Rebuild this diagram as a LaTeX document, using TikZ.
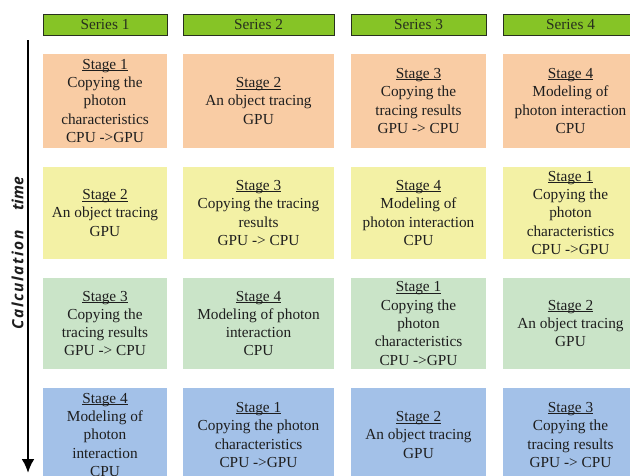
\documentclass[tikz,border=0pt]{standalone}
\usepackage{fontspec}
\setmainfont{Liberation Serif}
\newfontfamily\axisfont{Open Sans}
\usetikzlibrary{arrows.meta}
\definecolor{hdrgreen}{RGB}{134,196,38}
\definecolor{hdrline}{RGB}{40,48,30}
\definecolor{rowA}{RGB}{249,204,164}
\definecolor{rowB}{RGB}{243,241,165}
\definecolor{rowC}{RGB}{202,228,200}
\definecolor{rowD}{RGB}{163,193,232}
\definecolor{txt}{RGB}{30,30,30}
% underlined stage title, rule set just below the baseline
\newsavebox{\stgbox}
\newcommand{\stg}[1]{\sbox{\stgbox}{Stage #1}%
  \rlap{\rule[-1.6pt]{\wd\stgbox}{0.7pt}}\usebox{\stgbox}}
\tikzset{
  x=1pt, y=1pt,
  cell/.style={inner sep=0pt, align=center, text=txt,
    font=\fontsize{15.3}{18.3}\selectfont},
  hdr/.style={draw=hdrline, line width=1pt, fill=hdrgreen, inner sep=0pt,
    minimum height=21pt, text=hdrline, font=\fontsize{15.3}{18}\selectfont},
  wA/.style={minimum width=124pt},
  wB/.style={minimum width=151pt},
  wC/.style={minimum width=135pt},
  wD/.style={minimum width=135pt},
}
\begin{document}
\begin{tikzpicture}
\useasboundingbox (0,0) rectangle (630,-475);
\clip (0,0) rectangle (630,-475);
\fill[white] (0,0) rectangle (630,-475);

% column headers
\node[hdr,wA] (h1) at (105,-24.5) {Series 1};
\node[hdr,wB] (h2) at (258.5,-24.5) {Series 2};
\node[hdr,wC] (h3) at (418.5,-24.5) {Series 3};
\node[hdr,wD] (h4) at (570.5,-24.5) {Series 4};

% row 1
\begin{scope}[every node/.style={cell, fill=rowA, minimum height=94pt}]
\node[wA] (a1) at (105,-101) {\stg{1}\\Copying the\\photon\\characteristics\\CPU ->GPU};
\node[wB] (a2) at (258.5,-101) {\stg{2}\\An object tracing\\GPU};
\node[wC] (a3) at (418.5,-101) {\stg{3}\\Copying the\\tracing results\\GPU -> CPU};
\node[wD] (a4) at (570.5,-101) {\stg{4}\\Modeling of\\photon interaction\\CPU};
\end{scope}

% row 2
\begin{scope}[every node/.style={cell, fill=rowB, minimum height=92pt}]
\node[wA] (b1) at (105,-213) {\stg{2}\\An object tracing\\GPU};
\node[wB] (b2) at (258.5,-213) {\stg{3}\\Copying the tracing\\results\\GPU -> CPU};
\node[wC] (b3) at (418.5,-213) {\stg{4}\\Modeling of\\photon interaction\\CPU};
\node[wD] (b4) at (570.5,-213) {\stg{1}\\Copying the\\photon\\characteristics\\CPU ->GPU};
\end{scope}

% row 3
\begin{scope}[every node/.style={cell, fill=rowC, minimum height=91pt}]
\node[wA] (c1) at (105,-323.5) {\stg{3}\\Copying the\\tracing results\\GPU -> CPU};
\node[wB] (c2) at (258.5,-323.5) {\stg{4}\\Modeling of photon\\interaction\\CPU};
\node[wC] (c3) at (418.5,-323.5) {\stg{1}\\Copying the\\photon\\characteristics\\CPU ->GPU};
\node[wD] (c4) at (570.5,-323.5) {\stg{2}\\An object tracing\\GPU};
\end{scope}

% row 4 (runs past the lower edge)
\begin{scope}[every node/.style={cell, fill=rowD, minimum height=94pt}]
\node[wA] (d1) at (105,-435) {\stg{4}\\Modeling of\\photon\\interaction\\CPU};
\node[wB] (d2) at (258.5,-435) {\stg{1}\\Copying the photon\\characteristics\\CPU ->GPU};
\node[wC] (d3) at (418.5,-435) {\stg{2}\\An object tracing\\GPU};
\node[wD] (d4) at (570.5,-435) {\stg{3}\\Copying the\\tracing results\\GPU -> CPU};
\end{scope}

% time axis
\coordinate (tstart) at (28,-40);
\coordinate (tend) at (28,-473);
\draw[line width=2.6pt, -{Latex[length=14pt,width=13pt]}] (tstart) -- (tend);
\node[rotate=90, inner sep=0pt, text=txt,
  font=\axisfont\bfseries\itshape\fontsize{15.5}{17}\selectfont]
  (axis) at (17.5,-253)
  {{\addfontfeatures{LetterSpace=10}Calculation}\hspace{20pt}time};
\end{tikzpicture}
\end{document}
